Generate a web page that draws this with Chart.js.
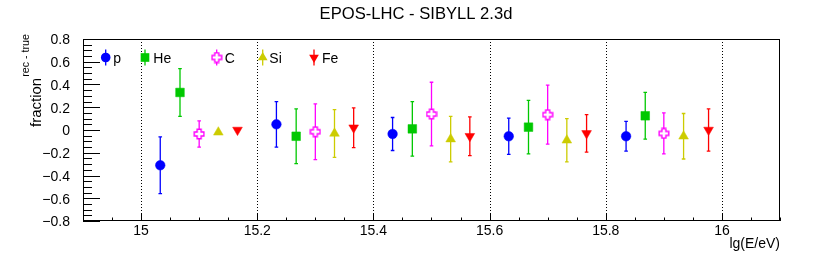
<!DOCTYPE html>
<html>
<head>
<meta charset="utf-8">
<script src="https://cdn.jsdelivr.net/npm/chart.js@4.4.0/dist/chart.umd.min.js"></script>
<style>
  html, body { margin: 0; padding: 0; background: #fff; }
  canvas { display: block; }
</style>
</head>
<body>
<canvas id="chart" width="830" height="261"></canvas>
<script>
// tick labels
const xTicks = [15, 15.2, 15.4, 15.6, 15.8, 16];
const yTicks = [-0.8, -0.6, -0.4, -0.2, 0, 0.2, 0.4, 0.6, 0.8];

// species (legend order)
const species = ['p', 'He', 'C', 'Si', 'Fe'];

// proton
const xP = [15.033, 15.233, 15.433, 15.633, 15.835];
const yP = [-0.31, 0.05, -0.035, -0.055, -0.055];
const eP = [0.25, 0.20, 0.145, 0.16, 0.13];
// helium
const xHe = [15.067, 15.267, 15.467, 15.667, 15.868];
const yHe = [0.33, -0.055, 0.01, 0.025, 0.125];
const eHe = [0.21, 0.24, 0.24, 0.235, 0.205];
// carbon
const xC = [15.1, 15.3, 15.5, 15.7, 15.9];
const yC = [-0.035, -0.015, 0.14, 0.135, -0.03];
const eC = [0.115, 0.245, 0.28, 0.26, 0.18];
// silicon
const xSi = [15.133, 15.333, 15.533, 15.733, 15.934];
const ySi = [-0.02, -0.03, -0.08, -0.09, -0.055];
const eSi = [0, 0.21, 0.2, 0.19, 0.2];
// iron
const xFe = [15.166, 15.366, 15.566, 15.767, 15.977];
const yFe = [0.0, 0.02, -0.055, -0.03, 0.0];
const eFe = [0, 0.175, 0.17, 0.165, 0.185];

const FONT = "'Liberation Sans', Arial, Helvetica, sans-serif";
const colors = ['#0000ff', '#00c800', '#ff00ff', '#cccc00', '#ff0000'];

// open cross marker (ROOT style 28)
function makeCross(color) {
  const c = document.createElement('canvas');
  c.width = 12; c.height = 12;
  const g = c.getContext('2d');
  const cx = 6, cy = 6, a = 2, h = 4.8;
  g.beginPath();
  g.moveTo(cx - a, cy - h); g.lineTo(cx + a, cy - h); g.lineTo(cx + a, cy - a);
  g.lineTo(cx + h, cy - a); g.lineTo(cx + h, cy + a); g.lineTo(cx + a, cy + a);
  g.lineTo(cx + a, cy + h); g.lineTo(cx - a, cy + h); g.lineTo(cx - a, cy + a);
  g.lineTo(cx - h, cy + a); g.lineTo(cx - h, cy - a); g.lineTo(cx - a, cy - a);
  g.closePath();
  g.fillStyle = '#fff'; g.fill();
  g.strokeStyle = color; g.lineWidth = 1.4; g.stroke();
  return c;
}
const crossImg = makeCross(colors[2]);

function pts(xs, ys) { return xs.map((x, i) => ({ x: x, y: ys[i] })); }

const datasets = [
  { label: species[0], data: pts(xP, yP), errors: eP, pointStyle: 'circle', pointRadius: 4.8 },
  { label: species[1], data: pts(xHe, yHe), errors: eHe, pointStyle: 'rect', pointRadius: 6.1 },
  { label: species[2], data: pts(xC, yC), errors: eC, pointStyle: crossImg, pointRadius: 5 },
  { label: species[3], data: pts(xSi, ySi), errors: eSi, pointStyle: 'triangle', pointRadius: 5.6 },
  { label: species[4], data: pts(xFe, yFe), errors: eFe, pointStyle: 'triangle', pointRadius: 5.6, pointRotation: 180 }
].map((d, i) => Object.assign(d, {
  backgroundColor: colors[i],
  borderColor: colors[i],
  pointBorderWidth: 0.5,
  showLine: false
}));

function drawMarker(ctx, ds, x, y) {
  ctx.save();
  ctx.fillStyle = ds.backgroundColor;
  const r = ds.pointRadius;
  if (ds.pointStyle === 'circle') {
    ctx.beginPath(); ctx.arc(x, y, r, 0, Math.PI * 2); ctx.fill();
  } else if (ds.pointStyle === 'rect') {
    const s = r * Math.SQRT1_2;
    ctx.fillRect(x - s, y - s, 2 * s, 2 * s);
  } else if (ds.pointStyle === 'triangle') {
    let rad = (ds.pointRotation || 0) * Math.PI / 180;
    ctx.beginPath();
    for (let k = 0; k < 3; k++) {
      const px = x + Math.sin(rad) * r, py = y - Math.cos(rad) * r;
      k ? ctx.lineTo(px, py) : ctx.moveTo(px, py);
      rad += Math.PI * 2 / 3;
    }
    ctx.closePath(); ctx.fill();
  } else {
    ctx.drawImage(ds.pointStyle, x - 6, y - 6);
  }
  ctx.restore();
}

const rootStyle = {
  id: 'rootStyle',
  beforeDatasetsDraw(chart) {
    const { ctx, chartArea: a, scales: { x, y } } = chart;
    ctx.save();
    // dotted verticals
    ctx.strokeStyle = '#000';
    ctx.lineWidth = 1;
    ctx.setLineDash([1, 2]);
    xTicks.forEach(v => {
      const px = Math.round(x.getPixelForValue(v)) + 0.5;
      ctx.beginPath(); ctx.moveTo(px, a.top); ctx.lineTo(px, a.bottom); ctx.stroke();
    });
    ctx.setLineDash([]);
    // error bars
    chart.data.datasets.forEach(ds => {
      ctx.strokeStyle = ds.borderColor;
      ctx.lineWidth = 1.3;
      ds.data.forEach((p, i) => {
        const e = ds.errors[i];
        if (!e) return;
        const px = x.getPixelForValue(p.x);
        const t = y.getPixelForValue(p.y + e), b = y.getPixelForValue(p.y - e);
        ctx.beginPath();
        ctx.moveTo(px, t); ctx.lineTo(px, b);
        ctx.moveTo(px - 1.8, t); ctx.lineTo(px + 1.8, t);
        ctx.moveTo(px - 1.8, b); ctx.lineTo(px + 1.8, b);
        ctx.stroke();
      });
    });
    ctx.restore();
  },
  afterDatasetsDraw(chart) {
    const { ctx, chartArea: a, scales: { x, y } } = chart;
    ctx.save();
    ctx.strokeStyle = '#000';
    ctx.lineWidth = 1;
    // frame
    ctx.strokeRect(a.left + 0.5, a.top + 0.5, a.right - a.left - 1, a.bottom - a.top - 1);
    ctx.beginPath();
    // y ticks, minor every 0.05
    for (let i = -16; i <= 16; i++) {
      const py = Math.round(y.getPixelForValue(i / 20)) + 0.5;
      const len = i % 4 === 0 ? 17 : 9;
      ctx.moveTo(a.left, py); ctx.lineTo(a.left + len, py);
    }
    // x ticks, minor every 0.05
    for (let i = 298; i <= 322; i++) {
      const px = Math.round(x.getPixelForValue(i / 20)) + 0.5;
      const len = i % 4 === 0 ? 8 : 3.5;
      ctx.moveTo(px, a.bottom); ctx.lineTo(px, a.bottom - len);
    }
    ctx.stroke();

    // legend
    const lx = [105.7, 145, 216.7, 262.7, 314];
    const tx = [113.3, 153.3, 224.7, 269.3, 322];
    const ly = 57.5;
    ctx.font = '14px ' + FONT;
    ctx.textBaseline = 'alphabetic';
    chart.data.datasets.forEach((ds, i) => {
      ctx.strokeStyle = ds.borderColor;
      ctx.lineWidth = 1.3;
      ctx.beginPath(); ctx.moveTo(lx[i], ly - 8); ctx.lineTo(lx[i], ly + 8); ctx.stroke();
      drawMarker(ctx, ds, lx[i], ly);
      ctx.fillStyle = '#000';
      ctx.textAlign = 'left';
      ctx.fillText(ds.label, tx[i], ly + 5);
    });

    // titles
    ctx.fillStyle = '#000';
    ctx.textAlign = 'center';
    ctx.font = '16.6px ' + FONT;
    ctx.fillText('EPOS-LHC - SIBYLL 2.3d', 416, 19.3);
    ctx.textAlign = 'right';
    ctx.font = '14px ' + FONT;
    ctx.fillText('lg(E/eV)', a.right, 248);
    ctx.save();
    ctx.translate(41, 127);
    ctx.rotate(-Math.PI / 2);
    ctx.textAlign = 'left';
    ctx.font = '15px ' + FONT;
    ctx.fillText('fraction', 0, 0);
    const w = ctx.measureText('fraction').width;
    ctx.font = '10.7px ' + FONT;
    ctx.fillText('rec - true', w + 1, -12.5);
    ctx.restore();
    ctx.restore();
  }
};

const fmt = v => (Math.abs(v) < 1e-9 ? '0' : (v < 0 ? '\u2212' : '') + String(+Math.abs(v).toFixed(1)));

new Chart(document.getElementById('chart'), {
  type: 'scatter',
  data: { datasets: datasets },
  options: {
    responsive: false,
    animation: false,
    events: [],
    devicePixelRatio: 1,
    layout: { padding: { top: 39, right: 50, left: 0, bottom: 0 } },
    plugins: { legend: { display: false }, tooltip: { enabled: false }, title: { display: false } },
    scales: {
      x: {
        type: 'linear', min: 14.9, max: 16.1,
        grid: { display: false }, border: { display: false },
        afterBuildTicks: s => { s.ticks = xTicks.map(v => ({ value: v })); },
        afterFit: s => { s.height = 40; },
        ticks: { autoSkip: false, maxRotation: 0, padding: -6, color: '#000', font: { family: FONT, size: 14 }, callback: v => fmt(v) }
      },
      y: {
        type: 'linear', min: -0.8, max: 0.8,
        grid: { display: false }, border: { display: false },
        afterBuildTicks: s => { s.ticks = yTicks.map(v => ({ value: v })); },
        afterFit: s => { s.width = 83; },
        ticks: { autoSkip: false, padding: 5, labelOffset: 1.5, color: '#000', font: { family: FONT, size: 14 }, callback: v => fmt(v) }
      }
    }
  },
  plugins: [rootStyle]
});
</script>
</body>
</html>
